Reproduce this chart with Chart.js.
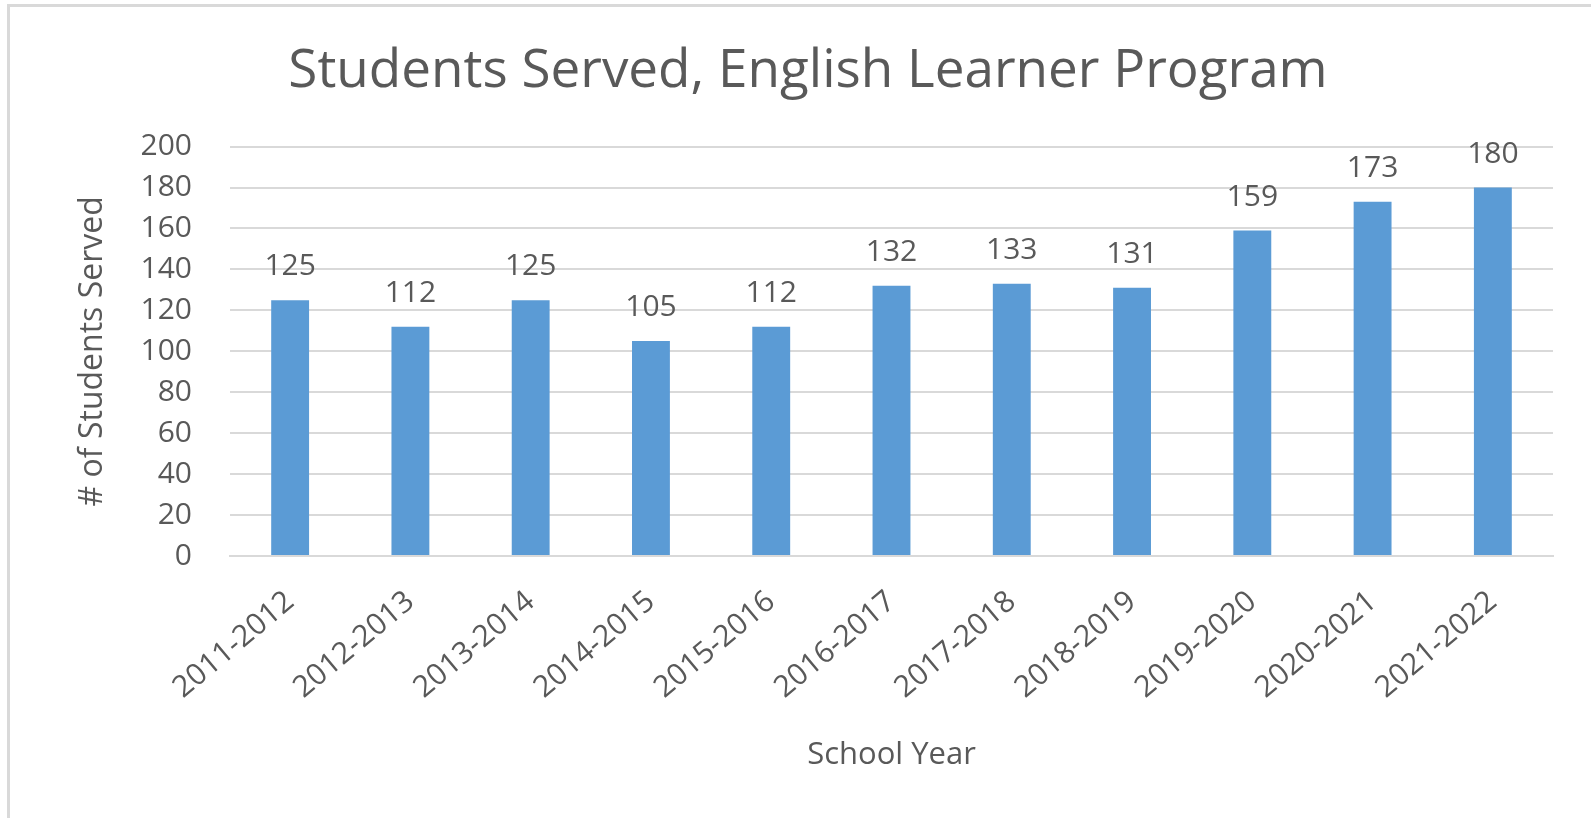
<!DOCTYPE html>
<html>
<head>
<meta charset="utf-8">
<script src="https://cdn.jsdelivr.net/npm/chart.js@4"></script>
<style>
  html, body { margin: 0; padding: 0; background: #fff; }
  #wrap { position: relative; width: 1591px; height: 818px; overflow: hidden; }
  #frame {
    position: absolute; left: 7px; top: 4px; right: -10px; bottom: -10px;
    border-left: 3px solid #d9d9d9; border-top: 3px solid #d9d9d9;
  }
  canvas { position: absolute; left: 0; top: 0; }
</style>
</head>
<body>
<div id="wrap">
  <div id="frame"></div>
  <canvas id="chart" width="1591" height="818"></canvas>
</div>
<script>
// Data
const schoolYears = ['2011-2012', '2012-2013', '2013-2014', '2014-2015', '2015-2016',
  '2016-2017', '2017-2018', '2018-2019', '2019-2020', '2020-2021', '2021-2022']
const studentsServed = [125, 112, 125, 105, 112, 132, 133, 131, 159, 173, 180]
const yTicks = [0, 20, 40, 60, 80, 100, 120, 140, 160, 180, 200]

const textColor = '#595959'
const fontFamily = "'Open Sans', 'Noto Sans', sans-serif"

// Draw value labels above each bar
const barValueLabels = {
  id: 'barValueLabels',
  afterDatasetsDraw(chart) {
    const ctx = chart.ctx
    const meta = chart.getDatasetMeta(0)
    ctx.save()
    ctx.font = '30px ' + fontFamily
    ctx.fillStyle = textColor
    ctx.textAlign = 'center'
    ctx.textBaseline = 'alphabetic'
    meta.data.forEach((bar, i) => {
      ctx.fillText(String(chart.data.datasets[0].data[i]), bar.x, bar.y - 25)
    })
    ctx.restore()
  }
}

new Chart(document.getElementById('chart'), {
  type: 'bar',
  data: {
    labels: schoolYears,
    datasets: [{
      label: '# of Students Served',
      data: studentsServed,
      backgroundColor: '#5b9bd5',
      barPercentage: 0.315,
      categoryPercentage: 1
    }]
  },
  options: {
    responsive: false,
    animation: false,
    layout: { padding: { left: 25, right: 0, top: 0, bottom: 0 } },
    plugins: {
      legend: { display: false },
      tooltip: { enabled: false },
      title: {
        display: true,
        text: 'Students Served, English Learner Program',
        color: textColor,
        font: { family: fontFamily, size: 53, weight: 'normal' },
        padding: { top: 40, bottom: 43 }
      }
    },
    scales: {
      x: {
        grid: { display: false, drawTicks: false },
        border: { display: true, color: '#d9d9d9', width: 2 },
        ticks: {
          color: textColor,
          font: { family: fontFamily, size: 30 },
          minRotation: 40,
          maxRotation: 40,
          padding: 28
        },
        title: {
          display: true,
          text: 'School Year',
          color: textColor,
          font: { family: fontFamily, size: 31 },
          padding: { top: 10, bottom: 44 }
        },
        afterFit(scale) { scale.height = 262 }
      },
      y: {
        min: 0,
        max: 200,
        afterBuildTicks(scale) { scale.ticks = yTicks.map(v => ({ value: v })) },
        grid: { color: '#d9d9d9', lineWidth: 2, drawTicks: false },
        border: { display: false },
        ticks: {
          color: textColor,
          font: { family: fontFamily, size: 30 },
          padding: 38
        },
        title: {
          display: true,
          text: '# of Students Served',
          color: textColor,
          font: { family: fontFamily, size: 32 },
          padding: { top: 49, bottom: 0 }
        },
        afterFit(scale) { scale.width = 205 }
      },
      // empty right-hand axis, only reserves the blank margin right of the plot
      yRight: {
        position: 'right',
        display: true,
        grid: { display: false, drawTicks: false },
        border: { display: false },
        ticks: { display: false },
        afterFit(scale) { scale.width = 38 }
      }
    }
  },
  plugins: [barValueLabels]
})
</script>
</body>
</html>
